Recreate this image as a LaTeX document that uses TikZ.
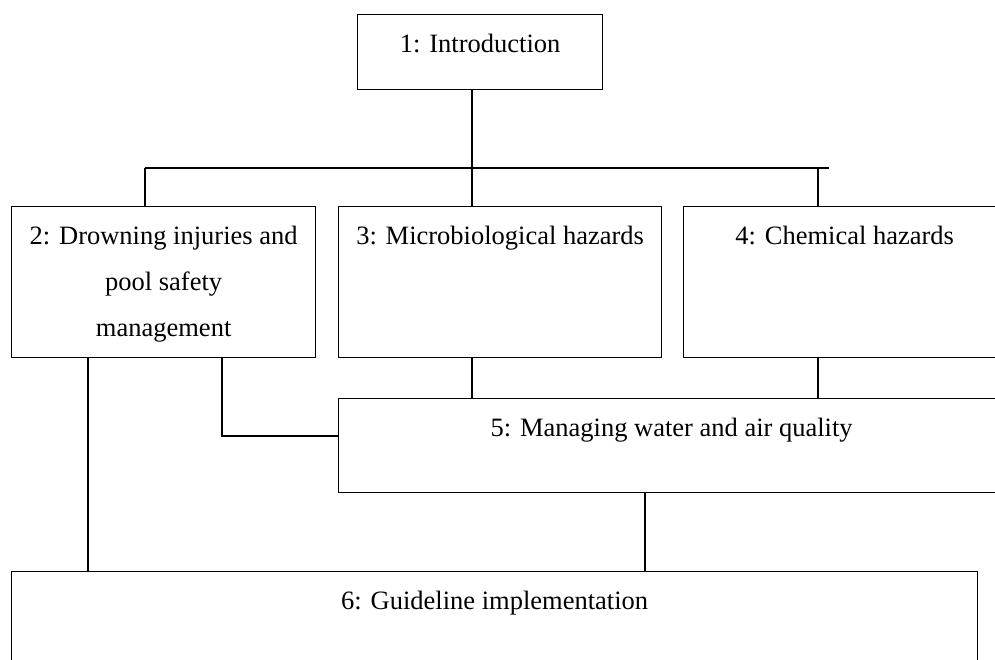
\documentclass[tikz,border=0pt]{standalone}
\usepackage{fontspec}
\setmainfont{Liberation Serif}
\tikzset{%
  % Specifications for style of nodes:
     box/.style = {rectangle, draw=black, line width=1.3pt,
                   anchor=north west, inner sep=0pt},
   title/.style = {anchor=base, yshift=-38.5pt, align=center,
                   font=\fontsize{26.5}{46}\selectfont},
}

\begin{document}
\begin{tikzpicture}[x=1pt, y=-1pt, line width=1.3pt]
  \useasboundingbox (0,0) rectangle (995,659);
  \clip (0,0) rectangle (995,659);
  % Specification of nodes (position, etc.)
  \node (intro) [box, minimum width=245pt, minimum height=75pt,
        label={[title]north:1: Introduction}] at (357,14) {};
  % base of a three line label is its last line: two more lines down
  \node (drown) [box, minimum width=304pt, minimum height=151pt,
        label={[title, yshift=-92pt]north:{2: Drowning injuries and\\
        pool safety\\ management}}] at (11,206) {};
  \node (micro) [box, minimum width=323pt, minimum height=151pt,
        label={[title]north:3: Microbiological hazards}] at (338,206) {};
  \node (chem)  [box, minimum width=322pt, minimum height=151pt,
        label={[title]north:4: Chemical hazards}] at (683,206) {};
  \node (water) [box, minimum width=666pt, minimum height=94pt,
        label={[title]north:5: Managing water and air quality}] at (338,398) {};
  \node (guide) [box, minimum width=966pt, minimum height=110pt,
        label={[title]north:6: Guideline implementation}] at (11,571) {};

  % points where the lines branch off
  \coordinate (busL)  at (145,168);
  \coordinate (busM)  at (472,168);
  \coordinate (busR)  at (818,168);
  \coordinate (busE)  at (829,168);
  \coordinate (elbow) at (222,436);
  \coordinate (leftdrop)  at (88,0);
  \coordinate (waterdrop) at (645,0);

  \draw              (busL) -- (busE);
  \draw (intro.south -| busM) -- (busM);
  \draw              (busL) -- (drown.north -| busL);
  \draw              (busM) -- (micro.north -| busM);
  \draw              (busR) -- (chem.north -| busR);
  \draw (micro.south -| busM) -- (water.north -| busM);
  \draw  (chem.south -| busR) -- (water.north -| busR);
  \draw (drown.south -| elbow) -- (elbow) -- (water.west |- elbow);
  \draw (drown.south -| leftdrop) -- (guide.north -| leftdrop);
  \draw (water.south -| waterdrop) -- (guide.north -| waterdrop);
\end{tikzpicture}
\end{document}
